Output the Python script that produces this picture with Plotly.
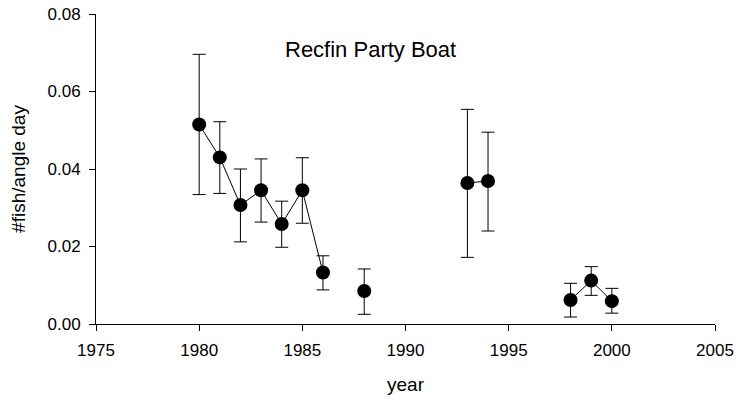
import plotly.graph_objects as go

# Recfin party boat catch rate by year, with upper/lower interval bounds
years = [1980, 1981, 1982, 1983, 1984, 1985, 1986, 1988, 1993, 1994, 1998, 1999, 2000]
cpue = [0.0515, 0.0430, 0.0307, 0.0345, 0.0258, 0.0345, 0.0133, 0.0085, 0.0364, 0.0369, 0.0062, 0.0112, 0.0059]
upper = [0.0696, 0.0522, 0.0400, 0.0426, 0.0317, 0.0429, 0.0176, 0.0142, 0.0554, 0.0495, 0.0105, 0.0148, 0.0092]
lower = [0.0334, 0.0337, 0.0212, 0.0263, 0.0198, 0.0260, 0.0088, 0.0025, 0.0172, 0.0240, 0.0018, 0.0074, 0.0028]

x_ticks = [1975, 1980, 1985, 1990, 1995, 2000, 2005]
y_ticks = [0.00, 0.02, 0.04, 0.06, 0.08]

# Break the connecting line wherever consecutive years are missing
line_x, line_y = [], []
for i, (yr, v) in enumerate(zip(years, cpue)):
    if i > 0 and yr - years[i - 1] > 1:
        line_x.append(None)
        line_y.append(None)
    line_x.append(yr)
    line_y.append(v)

FONT = "Liberation Sans, Arial, sans-serif"

fig = go.Figure()
fig.add_trace(go.Scatter(
    x=line_x, y=line_y, mode="lines",
    line=dict(color="black", width=1),
    connectgaps=False, hoverinfo="skip", showlegend=False,
))
fig.add_trace(go.Scatter(
    x=years, y=cpue, mode="markers",
    marker=dict(color="black", size=14),
    error_y=dict(
        type="data", symmetric=False,
        array=[u - v for u, v in zip(upper, cpue)],
        arrayminus=[v - l for v, l in zip(cpue, lower)],
        color="black", thickness=1, width=6.5,
    ),
    showlegend=False,
))

fig.update_layout(
    width=736, height=400,
    margin=dict(l=96, r=21, t=14, b=76),
    paper_bgcolor="white", plot_bgcolor="white",
    font=dict(family=FONT, color="black", size=17),
    xaxis=dict(
        range=[1975, 2005], tickvals=x_ticks, ticktext=[str(t) for t in x_ticks],
        showgrid=False, zeroline=False, showline=True, linecolor="black", linewidth=1,
        ticks="outside", ticklen=6, tickcolor="black", tickwidth=1,
        tickfont=dict(size=17), ticklabelstandoff=5, automargin=False,
        title=dict(text="year", font=dict(size=19), standoff=18),
    ),
    yaxis=dict(
        range=[0, 0.08], tickvals=y_ticks, ticktext=[f"{t:.2f}" for t in y_ticks],
        showgrid=False, zeroline=False, showline=True, linecolor="black", linewidth=1,
        ticks="outside", ticklen=6, tickcolor="black", tickwidth=1,
        tickfont=dict(size=17), ticklabelstandoff=5, automargin=False,
        title=dict(text="#fish/angle day", font=dict(size=19), standoff=16),
    ),
    annotations=[dict(
        text="Recfin Party Boat", x=0.443, y=0.885, xref="paper", yref="paper",
        xanchor="center", yanchor="middle", showarrow=False,
        font=dict(size=22, family=FONT, color="black"),
    )],
)

fig.write_html("out.html")
